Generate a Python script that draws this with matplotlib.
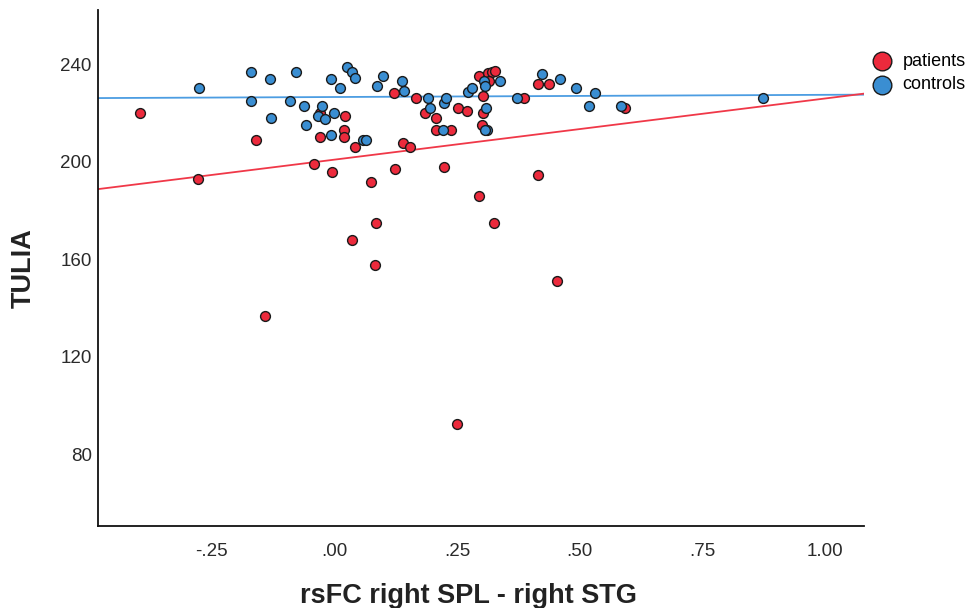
import matplotlib
matplotlib.use('Agg')
import numpy as np
import matplotlib.pyplot as plt

plt.rcParams['font.family'] = ['Liberation Sans', 'DejaVu Sans']

# patients (rsFC, TULIA)
patients_x = [-0.396, -0.159, -0.029, -0.029, 0.022, 0.020, 0.020, -0.277, -0.041, -0.005,
              0.043, 0.075, 0.123, 0.121, 0.141, 0.155, 0.167, 0.185, 0.208, 0.208,
              0.238, 0.223, 0.252, 0.271, 0.294, 0.304, 0.303, 0.302, 0.314, 0.321,
              0.328, 0.316, 0.295, 0.387, 0.416, 0.438, 0.593, 0.416, 0.086, 0.325,
              0.036, 0.084, 0.454, -0.141, 0.251]
patients_y = [220.1, 209.1, 210.1, 220.0, 219.0, 213.1, 210.1, 193.0, 199.1, 196.0,
              206.3, 191.9, 197.1, 228.2, 207.7, 206.0, 226.1, 220.2, 218.1, 213.1,
              213.1, 197.9, 222.0, 220.9, 235.3, 227.1, 220.2, 215.2, 236.4, 236.8,
              237.3, 233.1, 186.1, 226.1, 232.1, 232.1, 222.0, 194.5, 174.9, 174.9,
              167.9, 157.7, 151.2, 136.7, 92.5]

# controls (rsFC, TULIA)
controls_x = [-0.275, -0.170, -0.130, -0.077, -0.006, 0.012, 0.027, -0.170, -0.089, -0.061,
              -0.024, -0.033, -0.018, -0.001, -0.129, -0.058, -0.006, 0.036, 0.043, 0.088,
              0.100, 0.138, 0.143, 0.059, 0.065, 0.191, 0.196, 0.223, 0.228, 0.221,
              0.272, 0.280, 0.305, 0.308, 0.338, 0.309, 0.312, 0.308, 0.372, 0.423,
              0.460, 0.493, 0.531, 0.520, 0.584, 0.874]
controls_y = [230.1, 237.0, 234.1, 237.0, 234.1, 230.1, 239.1, 225.0, 225.0, 223.1,
              223.1, 219.0, 217.5, 220.1, 218.1, 215.1, 211.0, 237.0, 234.3, 231.2,
              235.3, 233.2, 229.1, 209.0, 209.0, 226.3, 222.0, 224.3, 226.3, 213.1,
              228.8, 230.1, 233.1, 231.2, 233.2, 222.0, 213.1, 213.1, 226.1, 236.1,
              234.1, 230.1, 228.2, 223.1, 223.1, 226.1]

# fit lines (intercept, slope)
patients_fit = (200.9, 25.1)
controls_fit = (226.6, 0.9)

xticks = [-0.25, 0.0, 0.25, 0.5, 0.75, 1.0]
xtick_labels = ['-.25', '.00', '.25', '.50', '.75', '1.00']
yticks = [80, 120, 160, 200, 240]

red = '#EC2A3C'
blue = '#3A8ED2'

fig = plt.figure(figsize=(9.77, 6.08), dpi=100)
ax = fig.add_axes([0.1003, 0.135, 0.7840, 0.849])

xlim = (-0.481, 1.079)
ax.set_xlim(*xlim)
ax.set_ylim(50.7, 262.4)

xs = np.array(xlim)
ax.plot(xs, controls_fit[0] + controls_fit[1] * xs, color='#4C9DE2', lw=1.3, zorder=2)
ax.plot(xs, patients_fit[0] + patients_fit[1] * xs, color='#F03848', lw=1.3, zorder=2)

ax.scatter(patients_x, patients_y, s=50, c=red, edgecolors='#1a1a1a', linewidths=1.0,
           zorder=3, label='patients')
ax.scatter(controls_x, controls_y, s=50, c=blue, edgecolors='#1a1a1a', linewidths=1.0,
           zorder=3, label='controls')

ax.set_xticks(xticks)
ax.set_xticklabels(xtick_labels)
ax.set_yticks(yticks)
ax.tick_params(axis='both', length=0, labelsize=13.5, labelcolor='#2a2a2a')
ax.tick_params(axis='y', pad=4.5)
ax.tick_params(axis='x', pad=12)

for side in ['top', 'right']:
    ax.spines[side].set_visible(False)
for side in ['left', 'bottom']:
    ax.spines[side].set_linewidth(1.3)
    ax.spines[side].set_color('#111111')

ax.set_xlabel('rsFC right SPL - right STG', fontsize=19.5, fontweight='bold',
              color='#222222', labelpad=17)
ax.xaxis.label.set_x(0.483)
ax.set_ylabel('TULIA', fontsize=19.5, fontweight='bold', color='#222222', labelpad=17)

ax.legend(loc='upper left', bbox_to_anchor=(0.99, 0.93), frameon=False,
          fontsize=13, markerscale=1.9, handletextpad=0.15, labelspacing=0.35,
          borderaxespad=0)

fig.savefig('out.png', dpi=100)
